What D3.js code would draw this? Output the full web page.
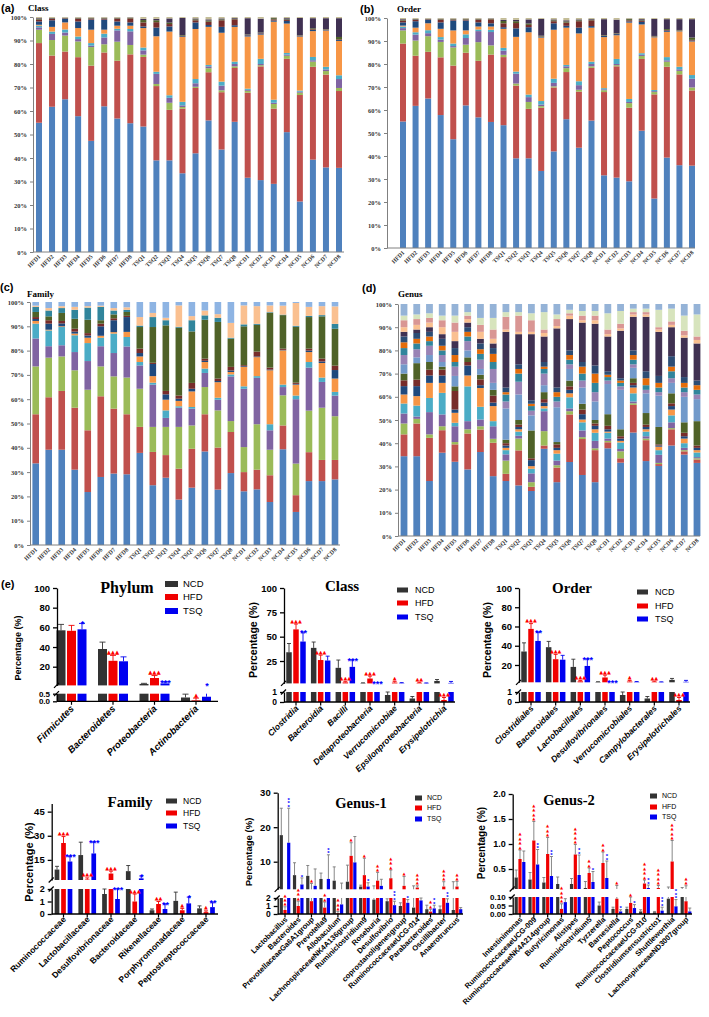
<!DOCTYPE html>
<html>
<head>
<meta charset="utf-8">
<script src="https://cdn.jsdelivr.net/npm/d3@7"></script>
<style>
  body { margin: 0; background: #fff; }
  svg { display: block; }
</style>
</head>
<body>
<svg id="fig" width="709" height="1017"></svg>
<script>
// Gut microbiota composition: stacked relative abundance per sample (a-d)
// and group means +/- SD for selected taxa (e).

const samples = ['HFD1','HFD2','HFD3','HFD4','HFD5','HFD6','HFD7','HFD8',
                 'TSQ1','TSQ2','TSQ3','TSQ4','TSQ5','TSQ6','TSQ7','TSQ8',
                 'NCD1','NCD2','NCD3','NCD4','NCD5','NCD6','NCD7','NCD8'];
const pctTicks = [0, 10, 20, 30, 40, 50, 60, 70, 80, 90, 100];

// cumulative tops (%) of each stacked layer, bottom to top, one row per sample
const classTops = [
  [55.0,88.9,94.6,95.6,96.3,96.7,98.1,98.9,99.2,99.5],
  [61.8,83.6,90.2,92.8,93.8,95.8,98.6,99.2,99.4,99.6],
  [65.0,85.3,92.1,93.4,94.7,97.7,99.3,99.5,99.6,99.7],
  [57.8,82.9,89.6,90.6,91.7,95.3,98.1,99.3,99.5,99.7],
  [47.3,79.3,87.2,87.8,88.9,94.6,98.9,99.3,99.5,99.7],
  [62.0,84.9,88.4,91.3,92.9,94.6,98.9,99.3,99.5,99.7],
  [56.8,81.4,89.5,94.3,95.0,96.3,98.1,99.3,99.5,99.7],
  [54.8,84.1,88.1,93.9,94.9,96.3,97.7,99.4,99.6,99.8],
  [53.4,83.0,84.0,85.8,87.0,95.3,96.0,97.7,98.7,99.2],
  [39.0,70.6,71.5,75.8,76.7,91.8,95.5,97.8,98.6,99.2],
  [39.0,60.5,63.5,65.6,66.7,93.8,96.0,97.0,97.6,99.4],
  [33.5,61.0,61.7,62.4,63.9,91.5,91.8,92.0,92.3,99.6],
  [42.0,69.8,70.3,71.8,73.6,94.9,97.7,98.6,99.0,99.4],
  [56.0,76.5,78.2,79.0,79.6,95.8,96.6,98.0,98.5,99.0],
  [43.6,68.0,68.8,70.8,72.5,93.3,95.8,98.6,99.0,99.4],
  [55.4,78.3,79.0,80.0,81.0,95.8,96.5,99.0,99.3,99.6],
  [31.6,67.8,68.6,69.0,69.5,91.7,92.2,92.4,92.6,99.5],
  [30.6,79.0,79.5,80.0,82.2,92.5,93.0,93.2,93.4,99.3],
  [29.0,61.0,63.0,63.5,64.8,98.0,98.5,99.0,99.5,99.7],
  [51.0,82.2,83.5,84.0,84.7,97.2,98.3,98.7,99.0,99.5],
  [21.5,66.8,67.8,68.2,68.7,91.6,91.8,92.0,92.2,99.6],
  [39.3,78.8,81.0,81.6,83.0,94.0,94.5,94.8,95.2,99.5],
  [36.0,75.5,77.0,77.7,78.8,94.2,94.4,94.6,94.8,99.5],
  [35.8,68.5,69.8,73.6,75.2,89.8,90.2,90.5,91.5,99.5]
];
// the order-level panel shows the same profile as the class-level one
const orderTops = classTops;

const familyTops = [
  [33.6,53.8,73.5,85.0,91.1,92.2,93.0,93.8,95.9,98.0,98.5],
  [39.2,60.8,77.1,81.8,88.3,88.6,91.1,92.5,94.1,96.5,97.5],
  [39.2,63.4,77.6,82.2,89.7,90.0,91.2,92.2,95.5,97.5,98.3],
  [31.0,56.5,71.9,79.4,86.3,87.0,87.8,89.0,93.1,96.8,98.0],
  [21.8,47.2,63.9,75.7,83.1,85.3,86.2,87.2,92.7,97.7,98.3],
  [28.0,61.2,73.5,81.8,85.3,86.1,90.0,91.1,92.5,98.0,98.5],
  [29.4,56.1,69.4,79.0,87.0,87.6,92.5,93.3,94.9,96.5,97.5],
  [29.1,53.8,68.9,81.7,85.6,87.7,93.8,94.3,95.9,96.8,97.8],
  [37.9,48.6,64.3,73.9,75.3,77.6,79.0,80.8,89.7,90.3,93.8],
  [24.6,38.3,48.6,66.0,66.8,69.5,74.5,75.0,89.7,93.8,95.5],
  [27.7,37.0,48.6,52.3,55.4,59.8,62.0,63.4,90.4,92.5,93.5],
  [18.7,31.4,48.6,56.5,57.1,59.3,60.2,61.5,89.4,89.8,98.6],
  [23.6,39.6,49.2,56.1,56.8,63.2,64.3,66.7,87.9,92.5,94.2],
  [38.5,53.8,65.0,70.8,72.6,75.3,75.8,76.7,92.7,94.5,96.5],
  [22.8,40.1,55.4,59.8,60.6,67.0,67.5,68.5,91.8,93.5,95.0],
  [29.6,46.5,51.0,69.4,70.2,71.2,71.8,73.3,84.9,85.3,91.4],
  [22.1,30.0,40.3,64.3,65.3,73.3,73.6,74.0,90.0,90.8,98.6],
  [22.9,31.0,49.7,68.8,69.5,77.3,77.6,79.6,90.6,91.0,98.3],
  [17.7,28.7,39.2,47.2,49.7,71.9,72.2,73.0,95.5,95.8,98.6],
  [39.4,49.2,61.6,65.0,66.0,80.1,80.3,80.8,94.6,94.8,98.5],
  [13.6,20.5,33.5,60.0,61.5,66.0,66.3,66.8,89.8,90.2,99.6],
  [26.3,38.2,55.3,73.0,75.3,79.4,80.0,80.8,93.8,94.3,98.0],
  [26.3,35.0,56.5,67.1,68.9,74.9,75.5,76.7,94.1,94.6,98.3],
  [27.0,35.0,53.0,61.5,63.0,68.5,72.0,73.8,89.0,91.0,98.2]
];

const genusTops = [
  [34.4,43.8,48.5,52.8,57.1,61.0,64.6,67.1,70.0,74.0,78.0,81.0,83.5,86.0,88.0,90.0,93.0,95.0],
  [34.4,48.5,50.5,51.5,56.2,60.3,64.6,67.4,74.5,77.0,80.5,83.0,85.0,87.5,89.0,91.0,93.5,95.5],
  [23.7,42.3,43.8,53.4,59.5,66.0,69.2,71.7,75.0,78.0,82.0,84.0,86.0,88.0,90.0,92.0,94.0,96.0],
  [35.9,45.6,47.3,52.4,61.7,66.0,69.2,71.7,73.0,75.0,78.0,80.0,82.0,85.0,87.0,90.0,93.0,95.0],
  [32.0,39.5,40.5,47.3,48.8,53.1,54.5,62.5,64.5,69.0,73.0,75.0,78.0,81.0,84.0,88.0,92.0,95.0],
  [28.7,44.2,46.0,49.5,64.5,69.2,73.5,75.0,77.0,80.0,84.0,86.0,88.0,90.0,92.0,93.5,95.0,96.5],
  [36.2,45.9,47.3,50.2,55.7,63.8,65.0,67.5,69.5,72.0,76.0,78.5,80.5,83.0,85.0,88.0,91.0,94.0],
  [25.8,40.2,41.9,47.3,49.5,56.0,57.5,60.5,63.0,66.0,72.0,75.0,78.5,81.0,83.0,85.0,89.0,94.0],
  [23.7,26.8,32.5,35.2,37.0,38.0,39.0,40.0,41.5,55.0,58.0,61.0,62.0,64.0,88.0,89.0,94.5,96.5],
  [21.8,36.9,42.0,43.2,45.0,46.0,47.0,48.0,50.0,61.0,66.5,70.0,72.0,74.0,87.0,88.0,95.0,96.5],
  [19.4,21.2,23.2,27.0,29.0,30.1,32.7,33.5,45.5,52.0,54.0,56.0,57.0,58.5,87.0,88.0,93.0,96.0],
  [37.6,39.0,45.2,53.8,55.0,56.0,57.5,59.0,62.0,65.0,70.0,72.0,73.0,75.0,86.0,87.5,89.0,96.5],
  [23.2,29.5,30.5,32.5,35.5,37.0,38.0,39.5,40.5,55.5,58.0,60.0,62.0,64.0,89.5,90.5,93.5,95.5],
  [31.9,52.4,53.8,55.0,59.8,61.5,63.0,64.5,67.0,72.0,74.0,76.0,78.0,80.0,93.5,95.0,96.0,97.5],
  [26.3,41.8,42.6,45.5,49.0,50.2,52.5,54.5,57.0,64.0,67.0,70.0,73.0,75.0,92.0,93.0,95.0,97.0],
  [23.2,37.0,37.8,41.0,44.5,46.0,47.5,48.5,50.0,58.0,62.0,66.0,70.0,73.5,91.5,93.0,95.0,97.0],
  [37.8,40.4,41.0,42.0,44.5,45.0,46.0,47.5,52.5,65.5,67.0,68.5,69.5,71.0,86.0,87.0,89.0,96.0],
  [31.6,33.5,36.5,37.5,40.3,41.0,42.0,43.0,46.0,63.0,64.5,66.0,67.0,68.0,88.5,89.5,91.5,97.0],
  [44.6,56.5,57.2,58.0,61.5,64.0,65.0,66.0,68.0,72.5,74.0,76.0,78.0,80.0,94.5,95.5,96.5,98.0],
  [32.3,41.3,42.0,43.0,45.0,46.0,47.0,48.0,53.0,61.5,63.0,65.0,68.0,71.0,94.5,95.5,96.5,98.0],
  [30.2,31.0,31.5,35.0,37.0,38.5,39.0,39.5,47.0,60.5,62.0,64.0,66.0,69.0,88.0,89.0,90.0,97.5],
  [39.0,46.0,46.5,49.0,52.0,54.5,56.0,57.2,61.5,66.0,68.0,71.0,73.0,77.5,90.0,91.0,92.5,98.0],
  [35.1,36.5,37.0,38.0,40.0,42.0,43.0,44.5,49.0,60.0,62.0,64.0,66.0,68.5,85.5,86.5,88.5,95.0],
  [31.5,33.0,33.5,34.0,36.0,37.0,38.0,39.0,49.5,59.0,61.0,63.0,65.0,67.0,83.0,84.5,86.0,95.5]
];

const baseColors = ['#4f81bd','#c0504d','#9bbb59','#8064a2','#4bacc6','#f79646'];
const classColors = baseColors.concat(['#1f497d','#772c2a','#4f6228','#403152']);
const familyColors = baseColors.concat(['#1f497d','#772c2a','#4f6228','#31859c','#fac090']);
const genusColors = baseColors.concat(['#1f497d','#772c2a','#4f6228','#729aca','#9983b5','#31859c',
                                       '#e46c0a','#2c4d75','#403152','#fac090','#d99694','#d7e4bd']);

// group comparison data: mean and SD as [NCD, HFD, TSQ]; marks as [HFD vs NCD, TSQ vs HFD]
const groups = ['NCD', 'HFD', 'TSQ'];
const groupColors = ['#333333', '#f00000', '#0000f0'];

const phylumNames = ['Firmicutes','Bacteroidetes','Proteobacteria','Actinobacteria'];
const phylumMean = [[57,56.5,58],[38,26,25.5],[2.5,8.5,3],[0.25,0.06,0.3]];
const phylumSd = [[6,5.5,6],[7,5.5,4.5],[0.6,2.5,1.5],[0.22,0.15,0.23]];
const phylumSig = [['','*'],['▲▲▲',''],['▲▲▲','***'],['▲','*']];

const classNames = ['Clostridia','Bacteroidia','Bacilli','Deltaproteobacteria','Verrucomicrobiae',
                    'Epsilonproteobacteria','Erysipelotrichia'];
const classMean = [[34,57.5,45],[38.5,26,25.5],[18,3,19],[2.3,7,1.5],[0.7,2.8,2.3],[0.35,2.5,2.2],[4.5,0.2,2.5]];
const classSd = [[9,5.5,9],[6,5,4.5],[8,0.8,7],[0.3,2.5,0.4],[0.3,1,0.5],[0.2,0.6,0.3],[1.5,0.25,1.5]];
const classSig = [['▲▲▲','**'],['▲▲▲',''],['▲▲▲','***'],['▲▲▲','***'],['▲',''],['▲▲',''],['▲▲▲','']];

const orderNames = ['Clostridiales','Bacteroidales','Lactobacillales','Desulfovibrionales',
                    'Verrucomicrobiales','Campylobacterales','Erysipelotrichales'];
const orderMean = classMean;
const orderSd = classSd;
const orderSig = classSig;

const familyNames = ['Ruminococcaceae','Lactobacillaceae','Desulfovibrionaceae','Bacteroidaceae',
                     'Rikenellaceae','Porphyromonadaceae','Peptostreptococcaceae'];
const familyMean = [[9,25.5,14],[18,2.8,19],[1.6,6.5,1.2],[8,1.0,3.5],[0.3,0.8,0.4],[1.05,0.3,0.85],[0.45,0.15,0.55]];
const familySd = [[2,4,3],[8,1,7],[0.4,1.5,0.8],[3.5,0.6,1.5],[0.1,0.2,0.4],[0.7,0.15,0.5],[0.2,0.1,0.35]];
const familySig = [['▲▲▲','***'],['▲▲▲','***'],['▲▲▲','***'],['▲▲▲','*'],['▲▲','**'],['▲','*'],['▲','**']];

const genus1Names = ['Lactobacillus','Bacteroides','PrevotellaceaeGa6A1group','Prevotella9','Allobaculum',
                     'LachnospiraceaeNK4A136group','Ruminiclostridium9','Roseburia','Desulfovibrio',
                     'coprostanoligenesgroup','RuminococcaceaeUCG-014','Parabacteroides','Oscillibacter','Anaerotruncus'];
const genus1Mean = [[17.7,0.5,15.5],[6.1,1.0,3.4],[5.9,1.6,3],[5,0.8,5],[4.5,0.1,1.2],[4.2,11.7,9.8],[2.8,6.1,2.8],
                    [1.8,4.5,3],[1.6,5.2,1.1],[1.0,3,1.4],[0.8,2.5,1.7],[0.6,0.3,0.7],[0.6,2.8,1.4],[0.5,2.8,0.6]];
const genus1Sd = [[7.8,0.4,10],[3.6,0.6,1.9],[3,2.1,4.9],[1.7,0.7,7],[4,0.2,2.6],[4.8,3.8,7.5],[0.4,4.9,1.1],
                  [1.2,2.4,1.9],[0.3,2.4,0.5],[0.4,2.7,0.4],[2.2,0.5,0.3],[0.5,0.3,0.4],[0.4,1.4,0.5],[3.7,1.5,0.2]];
const genus1Sig = [['▲▲▲','***'],['▲▲▲','*'],['▲',''],['▲▲','**'],['▲▲▲',''],['▲',''],['▲','*'],['▲▲',''],
                   ['▲▲▲','***'],['▲','*'],['▲▲▲',''],['▲▲','**'],['▲▲▲','**'],['▲▲','']];

const genus2Names = ['Intestinimonas','RuminococcaceaeUCG-009','RuminococcaceaeNK4A214group','Butyricimonas',
                     'Alistipes','Ruminiclostridium5','Tyzzerella','Barnesiella','Peptococcus',
                     'RuminococcaceaeUCG-010','Clostridiumsensustricto1','Shuttleworthia','LachnospiraceaeND3007group'];
const genus2Mean = [[0.33,0.7,0.64],[0.29,1.07,0.59],[0.23,0.8,0.36],[0.2,0.03,0.07],[0.2,0.79,0.38],[0.12,0.42,0.24],
                    [0.05,0.62,0.32],[0.03,0.09,0.015],[0.03,0.065,0.035],[0.015,0.21,0.12],[0.01,0.12,0.02],
                    [0.09,0.65,0.045],[0.1,0.075,0.015]];
const genus2Sd = [[0.15,0.18,0.22],[0.14,0.38,0.3],[0.1,0.33,0.39],[0.14,0.03,0.02],[0.11,0.2,0.4],[0.13,0.1,0.21],
                  [0.02,0.22,0.34],[0.01,0.08,0.01],[0.01,0.035,0.02],[0.01,0.07,0.06],[0.005,0.05,0.02],
                  [0.05,0.42,0.04],[0.03,0.09,0.02]];
const genus2Sig = [['▲▲▲▲',''],['▲▲▲▲','**'],['▲▲▲','**'],['▲▲▲▲',''],['▲▲▲▲','**'],['▲▲','*'],['▲▲','**'],
                   ['▲','*'],['▲','*'],['▲▲▲▲','**'],['▲▲▲▲','***'],['▲▲▲▲','***'],['▲▲','']];

const SERIF = '"Liberation Serif", "Times New Roman", serif';
const SANS = '"Liberation Sans", Arial, sans-serif';
const svg = d3.select('#fig');

// Stacked 100% bar panel (Excel style)
function drawStack(o) {
  const x = d3.scalePoint().domain(samples).range(o.xr);
  const y = d3.scaleLinear().domain([0, 100]).range([o.yb, o.yt]);
  const g = svg.append('g');

  g.selectAll('g.sample').data(o.tops).join('g')
    .attr('class', 'sample')
    .each(function (tops, i) {
      d3.select(this).selectAll('rect')
        .data(d3.pairs([0, ...tops, 100]))
        .join('rect')
          .attr('x', x(samples[i]) - o.bw / 2)
          .attr('width', o.bw)
          .attr('y', d => y(d[1]))
          .attr('height', d => Math.max(0, y(d[0]) - y(d[1])))
          .attr('fill', (d, k) => o.colors[k] || o.rest);
    });

  const ya = g.append('g')
    .attr('transform', `translate(${o.ax},0)`)
    .call(d3.axisLeft(y).tickValues(pctTicks).tickFormat(d => d + '%').tickSize(3).tickSizeOuter(0));
  ya.select('.domain').attr('stroke', '#808080');
  ya.selectAll('.tick line').attr('stroke', '#808080');
  ya.selectAll('text')
    .attr('font-family', SERIF).attr('font-weight', 'bold').attr('font-size', 6.5).attr('fill', '#333');

  g.append('line')
    .attr('x1', o.ax).attr('x2', o.xEnd).attr('y1', o.yb).attr('y2', o.yb)
    .attr('stroke', '#808080');

  g.selectAll('text.xl').data(samples).join('text')
    .attr('class', 'xl')
    .attr('transform', d => `translate(${x(d) + 2},${o.yb + 5}) rotate(-45)`)
    .attr('text-anchor', 'end')
    .attr('font-family', SERIF).attr('font-weight', 'bold').attr('font-size', 6).attr('fill', '#333')
    .text(d => d);

  g.append('text').attr('x', o.letter[0]).attr('y', o.letter[1])
    .attr('font-family', SANS).attr('font-weight', 'bold').attr('font-size', 11)
    .text(o.letterText);
  g.append('text').attr('x', o.title[0]).attr('y', o.title[1])
    .attr('font-family', SERIF).attr('font-weight', 'bold').attr('font-size', 9)
    .text(o.titleText);
}

// Grouped bar chart with a broken y axis (GraphPad style)
function drawGroups(o) {
  const g = svg.append('g');
  const x = d3.scalePoint().domain(o.names).range(o.xr);
  const yU = d3.scaleLinear().domain(o.up).range(o.upR);
  const yL = d3.scaleLinear().domain(o.low).range(o.lowR);
  const lowMax = o.low[1], upMin = o.up[0], upMax = o.up[1];
  const yAt = v => v <= lowMax ? yL(v) : (v >= upMin ? yU(Math.min(v, upMax)) : yU(upMin));
  const offs = [-o.off, 0, o.off];

  const cells = [];
  o.names.forEach((n, i) => groups.forEach((grp, j) => cells.push({
    j, v: o.mean[i][j], sd: o.sd[i][j], sig: j ? o.sig[i][j - 1] : '', cx: x(n) + offs[j]
  })));

  g.selectAll('rect.lo').data(cells).join('rect')
    .attr('class', 'lo')
    .attr('x', d => d.cx - o.bw / 2).attr('width', o.bw)
    .attr('y', d => yL(Math.min(d.v, lowMax)))
    .attr('height', d => yL(0) - yL(Math.min(d.v, lowMax)))
    .attr('fill', d => groupColors[d.j]);

  g.selectAll('rect.hi').data(cells.filter(d => d.v > upMin)).join('rect')
    .attr('class', 'hi')
    .attr('x', d => d.cx - o.bw / 2).attr('width', o.bw)
    .attr('y', d => yU(Math.min(d.v, upMax)))
    .attr('height', d => yU(upMin) - yU(Math.min(d.v, upMax)))
    .attr('fill', d => groupColors[d.j]);

  // error bars (upper whisker only)
  const eb = g.append('g').attr('stroke-width', 0.9);
  cells.forEach(d => {
    const top = d.v + d.sd;
    const col = o.errColor || groupColors[d.j];
    const seg = (y1, y2) => eb.append('line').attr('x1', d.cx).attr('x2', d.cx)
      .attr('y1', y1).attr('y2', y2).attr('stroke', col);
    if (d.v < lowMax) seg(yL(d.v), yL(Math.min(top, lowMax)));
    if (top > upMin) seg(yU(Math.max(d.v, upMin)), yU(Math.min(top, upMax)));
    if (top <= lowMax || top >= upMin) {
      const yc = yAt(top);
      eb.append('line').attr('x1', d.cx - o.cap).attr('x2', d.cx + o.cap)
        .attr('y1', yc).attr('y2', yc).attr('stroke', col);
    }
  });

  // significance marks
  cells.filter(d => d.sig).forEach(d => {
    const yTop = yAt(d.v + d.sd);
    const tri = d.sig[0] === '▲';
    const col = d.j === 1 ? '#ff0000' : '#0000ff';
    const t = g.append('text')
      .attr('fill', col)
      .attr('font-family', tri ? '"DejaVu Sans", sans-serif' : SANS)
      .attr('font-weight', 'bold')
      .text(d.sig);
    if (o.stacked) {
      // tiny symbols stacked upright above the whisker
      t.attr('x', d.cx).attr('y', yTop - 1)
        .attr('text-anchor', 'end')
        .style('writing-mode', 'vertical-rl')
        .style('text-orientation', 'upright')
        .attr('font-size', tri ? 4 : 6)
        .attr('letter-spacing', tri ? -0.6 : -2.6);
    } else {
      t.attr('x', d.cx + (tri ? 0 : 0.5)).attr('y', tri ? yTop - 1.5 : yTop + 0.4 * o.starFs)
        .attr('text-anchor', 'middle')
        .attr('font-size', tri ? o.triFs : o.starFs);
    }
  });

  // axes
  const styleAxis = (sel, fs) => {
    sel.select('.domain').attr('stroke', '#000').attr('stroke-width', 1.3);
    sel.selectAll('.tick line').attr('stroke', '#000').attr('stroke-width', 1.3);
    sel.selectAll('text').attr('font-family', SANS).attr('font-weight', 'bold')
      .attr('font-size', fs).attr('fill', '#000');
  };
  g.append('g').attr('transform', `translate(${o.ax},0)`)
    .call(d3.axisLeft(yU).tickValues(o.upTicks).tickFormat(o.fmtU).tickSize(4).tickSizeOuter(0))
    .call(styleAxis, o.tickFs);
  g.append('g').attr('transform', `translate(${o.ax},0)`)
    .call(d3.axisLeft(yL).tickValues(o.lowTicks).tickFormat(o.fmtL).tickSize(4).tickSizeOuter(0))
    .call(styleAxis, o.lowFs);

  // axis break marks
  [yU(upMin), yL(lowMax)].forEach(yb => {
    g.append('line').attr('x1', o.ax - 3).attr('x2', o.ax + 2)
      .attr('y1', yb + 2.5).attr('y2', yb - 2.5)
      .attr('stroke', '#000').attr('stroke-width', 1.2);
  });

  const y0 = yL(0);
  g.append('line').attr('x1', o.ax).attr('x2', o.xEnd).attr('y1', y0).attr('y2', y0)
    .attr('stroke', '#000').attr('stroke-width', 1.3);
  g.selectAll('line.xt').data(o.names).join('line')
    .attr('class', 'xt')
    .attr('x1', d => x(d)).attr('x2', d => x(d)).attr('y1', y0).attr('y2', y0 + 3.5)
    .attr('stroke', '#000').attr('stroke-width', 1.2);

  g.selectAll('text.xl').data(o.names).join('text')
    .attr('class', 'xl')
    .attr('transform', d => `translate(${x(d) + 3},${y0 + o.labDy}) rotate(-45)`)
    .attr('text-anchor', 'end')
    .attr('font-family', SANS).attr('font-weight', 'bold')
    .attr('font-style', o.italic ? 'italic' : 'normal')
    .attr('font-size', o.labFs)
    .text(d => d);

  // title, legend, y label
  g.append('text').attr('x', o.title[0]).attr('y', o.title[1]).attr('text-anchor', 'middle')
    .attr('font-family', SERIF).attr('font-weight', 'bold').attr('font-size', o.title[2])
    .text(o.titleText);

  groups.forEach((grp, j) => {
    g.append('rect')
      .attr('x', o.leg.x).attr('y', o.leg.y[j] - o.leg.h / 2)
      .attr('width', o.leg.w).attr('height', o.leg.h).attr('fill', groupColors[j]);
    g.append('text')
      .attr('x', o.leg.tx).attr('y', o.leg.y[j]).attr('dy', '0.35em')
      .attr('font-family', SANS).attr('font-size', o.leg.fs)
      .text(grp);
  });

  g.append('text')
    .attr('transform', `translate(${o.ylab[0]},${o.ylab[1]}) rotate(-90)`)
    .attr('text-anchor', 'middle')
    .attr('font-family', SANS).attr('font-weight', 'bold').attr('font-size', o.ylab[2])
    .text('Percentage (%)');
}

// ---- (a)-(d) ----
drawStack({ tops: classTops, colors: classColors, rest: '#c4bd97',
  ax: 33, xr: [39, 339], bw: 6, yb: 252, yt: 17, xEnd: 344,
  letter: [1, 12], letterText: '(a)', title: [28, 11], titleText: 'Class' });
drawStack({ tops: orderTops, colors: classColors, rest: '#c4bd97',
  ax: 387, xr: [403, 692], bw: 6, yb: 248, yt: 18, xEnd: 695,
  letter: [360, 13], letterText: '(b)', title: [397, 12], titleText: 'Order' });
drawStack({ tops: familyTops, colors: familyColors, rest: '#8eb4e3',
  ax: 30, xr: [35.7, 335], bw: 6.6, yb: 545, yt: 302, xEnd: 340,
  letter: [0, 291], letterText: '(c)', title: [27, 297], titleText: 'Family' });
drawStack({ tops: genusTops, colors: genusColors, rest: '#95b3d7',
  ax: 398, xr: [404, 697], bw: 6.8, yb: 536, yt: 304, xEnd: 700,
  letter: [362, 292], letterText: '(d)', title: [398, 297], titleText: 'Genus' });

svg.append('text').attr('x', 1).attr('y', 588)
  .attr('font-family', SANS).attr('font-weight', 'bold').attr('font-size', 11).text('(e)');

// ---- (e) ----
const fInt = d3.format('d');
drawGroups({ names: phylumNames, mean: phylumMean, sd: phylumSd, sig: phylumSig,
  ax: 57, xr: [71.5, 196], off: 10.5, bw: 9, cap: 3, xEnd: 218,
  up: [1, 100], upR: [685.4, 588], upTicks: [20, 40, 60, 80, 100], fmtU: fInt,
  low: [0, 0.5], lowR: [701.3, 693.7], lowTicks: [0, 0.5], fmtL: d3.format('.1f'),
  tickFs: 9.5, lowFs: 8, triFs: 5.5, starFs: 9, labFs: 9.5, labDy: 8, italic: true,
  title: [127, 593, 16], titleText: 'Phylum',
  leg: { x: 165, y: [584, 597, 611], w: 13, h: 6, tx: 183, fs: 9.5 },
  ylab: [21, 648, 9] });

drawGroups({ names: classNames, mean: classMean, sd: classSd, sig: classSig,
  ax: 284, xr: [296, 444], off: 7, bw: 5.5, cap: 2, xEnd: 455,
  up: [2, 100], upR: [683.4, 588], upTicks: [25, 50, 75, 100], fmtU: fInt,
  low: [0, 1], lowR: [702, 692], lowTicks: [0, 1], fmtL: fInt,
  tickFs: 9.5, lowFs: 8.5, triFs: 5, starFs: 9, labFs: 8.5, labDy: 7, italic: true,
  title: [342, 591, 15], titleText: 'Class',
  leg: { x: 397, y: [590, 603, 617], w: 11, h: 5, tx: 415, fs: 9 },
  ylab: [257, 640, 10.5] });

drawGroups({ names: orderNames, mean: orderMean, sd: orderSd, sig: orderSig,
  ax: 519, xr: [531, 679], off: 7, bw: 5.5, cap: 2, xEnd: 690,
  up: [2, 100], upR: [682.3, 588], upTicks: [20, 40, 60, 80, 100], fmtU: fInt,
  low: [0, 1], lowR: [702, 692], lowTicks: [0, 1], fmtL: fInt,
  tickFs: 9.5, lowFs: 8.5, triFs: 5, starFs: 9, labFs: 8.5, labDy: 7, italic: true,
  title: [572, 593, 15], titleText: 'Order',
  leg: { x: 637, y: [592, 606, 619], w: 11, h: 5, tx: 655, fs: 9 },
  ylab: [491, 640, 10.5] });

drawGroups({ names: familyNames, mean: familyMean, sd: familySd, sig: familySig,
  ax: 51.7, xr: [63.5, 206], off: 6.5, bw: 4.7, cap: 2, xEnd: 218,
  up: [2.5, 50], upR: [880, 803.6], upTicks: [15, 30, 45], fmtU: fInt,
  low: [0, 2], lowR: [914, 889], lowTicks: [0, 1, 2], fmtL: fInt,
  tickFs: 9.5, lowFs: 9, triFs: 5, starFs: 9, labFs: 8.5, labDy: 6, italic: false,
  title: [130, 807, 15], titleText: 'Family',
  leg: { x: 166, y: [801, 813, 826], w: 11, h: 5, tx: 183, fs: 8.5 },
  ylab: [33, 862, 11] });

drawGroups({ names: genus1Names, mean: genus1Mean, sd: genus1Sd, sig: genus1Sig,
  ax: 277.7, xr: [285, 457], off: 3.7, bw: 3.2, cap: 1.5, xEnd: 463, errColor: '#7a7a7a', stacked: true,
  up: [2, 30], upR: [889.3, 792.7], upTicks: [10, 20, 30], fmtU: fInt,
  low: [0, 2], lowR: [914, 898], lowTicks: [0, 1, 2], fmtL: fInt,
  tickFs: 9.5, lowFs: 8.5, labFs: 7.5, labDy: 6, italic: false,
  title: [361, 808, 14.5], titleText: 'Genus-1',
  leg: { x: 415, y: [798, 808, 819], w: 7, h: 5, tx: 427, fs: 7 },
  ylab: [252, 852, 9.5] });

drawGroups({ names: genus2Names, mean: genus2Mean, sd: genus2Sd, sig: genus2Sig,
  ax: 512.7, xr: [520, 686], off: 3.8, bw: 3.2, cap: 1.5, xEnd: 692, errColor: '#7a7a7a', stacked: true,
  up: [0.1, 2.0], upR: [889, 794], upTicks: [0.5, 1.0, 1.5, 2.0], fmtU: d3.format('.1f'),
  low: [0, 0.1], lowR: [914, 897], lowTicks: [0, 0.05, 0.1], fmtL: d3.format('.2f'),
  tickFs: 9, lowFs: 8, labFs: 7.5, labDy: 6, italic: false,
  title: [569, 805, 14.5], titleText: 'Genus-2',
  leg: { x: 650, y: [796, 807, 817], w: 7, h: 5, tx: 662, fs: 7 },
  ylab: [485, 843, 10] });
</script>
</body>
</html>
